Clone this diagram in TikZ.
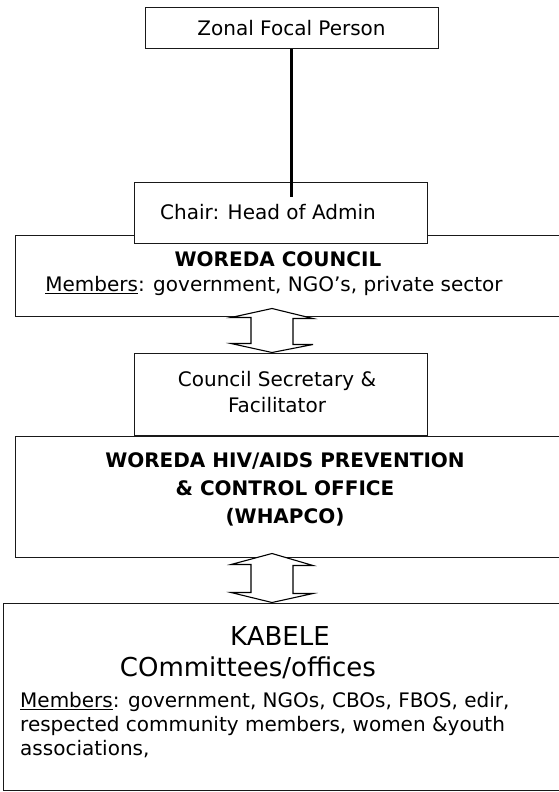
\documentclass[tikz,border=0pt]{standalone}
\usepackage{fontspec}
\setmainfont{DejaVu Sans}
\usetikzlibrary{positioning}

\begin{document}
\begin{tikzpicture}[x=1pt,y=-1pt,
    box/.style={draw=black!90, line width=1pt, fill=white, inner sep=0pt},
    hollow/.style={draw=black, line width=1.1pt, fill=white, line join=miter},
    txt/.style={inner sep=0pt, font=\fontsize{20}{24}\selectfont},
    head/.style={inner sep=0pt, align=center, font=\fontsize{20}{28}\selectfont\bfseries}]

    \clip (0,0) rectangle (559,792);

      % boxes
      \node[box, minimum width=293pt, minimum height=41pt] (zonal) at (291.5,28.5) {};
      \node[box, minimum width=560pt, minimum height=81pt] (council) at (295,275.5) {};
      \node[box, minimum width=293pt, minimum height=61pt] (chair) at (280.5,212.5) {};
      \node[box, minimum width=293pt, minimum height=82pt] (sec) at (280.5,394) {};
      \node[box, minimum width=560pt, minimum height=121pt] (whapco) at (295,496.5) {};
      \node[box, minimum width=572pt, minimum height=187pt] (kabele) at (289,696.5) {};

      % texts
      \node[txt] (zonaltxt) at (zonal) {Zonal Focal Person};
      \node[txt, anchor=west] (chairtxt) at (160,212) {Chair: Head of Admin};
      \node[head] (counciltxt) at (278,259) {WOREDA COUNCIL};
      \node[txt] (councilmem) at (274,286) {\underline{Members}: government, NGO’s, private sector};
      \node[txt, align=center, font=\fontsize{20}{26}\selectfont] (sectxt) at (277,392) {Council Secretary \&\\Facilitator};
      \node[head] (whapcotxt) at (285,489) {WOREDA HIV/AIDS PREVENTION\\\& CONTROL OFFICE\\(WHAPCO)};
      \node[txt, font=\fontsize{26}{30}\selectfont] (kabeletxt) at (280,636) {KABELE};
      \node[txt, font=\fontsize{26}{30}\selectfont] (committxt) at (248,668) {COmmittees/offices};
      \node[txt, anchor=north west, align=left] (kabelemem) at (20,692) {\underline{Members}: government, NGOs, CBOs, FBOS, edir,\\respected community members, women \&youth\\associations,};

      % links
      \draw[line width=2.4pt] (zonal.south) -- ([yshift=-15pt]chair.north -| zonal.south);
      \coordinate (mid) at (272,0);
      \draw[hollow] ([yshift=8pt]council.south -| mid) -- ++(41,10) -- ++(-20,0) -- ++(0,26) -- ++(20,0)
        -- (sec.north -| mid) -- ++(-41,-9) -- ++(20,0) -- ++(0,-26) -- ++(-20,0) -- cycle;
      \draw[hollow] ([yshift=4pt]whapco.south -| mid) -- ++(41,12) -- ++(-20,0) -- ++(0,28) -- ++(20,0)
        -- (kabele.north -| mid) -- ++(-41,-10) -- ++(20,0) -- ++(0,-28) -- ++(-20,0) -- cycle;
    \end{tikzpicture}
\end{document}
